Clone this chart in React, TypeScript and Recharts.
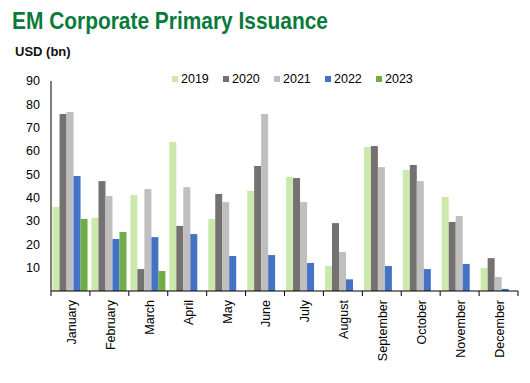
import React from 'react';
import { BarChart, Bar, XAxis, YAxis } from 'recharts';

const months = [
  'January', 'February', 'March', 'April', 'May', 'June',
  'July', 'August', 'September', 'October', 'November', 'December',
];

const y2019 = [36, 31.3, 41.1, 63.9, 30.9, 42.9, 48.9, 10.7, 61.7, 51.9, 40.3, 9.9];
const y2020 = [75.9, 47.1, 9.4, 27.9, 41.6, 53.6, 48.4, 29.1, 62.1, 54, 29.6, 14.1];
const y2021 = [76.7, 40.7, 43.7, 44.5, 38.1, 75.9, 38.1, 16.7, 53.1, 47.1, 32.1, 6];
const y2022 = [49.3, 22.3, 23.1, 24.4, 15, 15.4, 12, 5, 10.7, 9.4, 11.6, 0.9];
const y2023 = [30.9, 25.3, 8.6, null, null, null, null, null, null, null, null, null];

const yTicks = [10, 20, 30, 40, 50, 60, 70, 80, 90];

const series = [
  { key: 'y2019', name: '2019', color: '#cce9ad' },
  { key: 'y2020', name: '2020', color: '#767171' },
  { key: 'y2021', name: '2021', color: '#bfbfbf' },
  { key: 'y2022', name: '2022', color: '#4472c4' },
  { key: 'y2023', name: '2023', color: '#70ad47' },
];

const data = months.map((m, i) => ({
  month: m,
  y2019: y2019[i],
  y2020: y2020[i],
  y2021: y2021[i],
  y2022: y2022[i],
  y2023: y2023[i],
}));

const FONT = '"Liberation Sans", Arial, sans-serif';
const WIDTH = 530;
const HEIGHT = 383;
const MARGIN = { top: 81, right: 12, bottom: 22, left: 11 };
const Y_AXIS_W = 40;
const BAND = (WIDTH - MARGIN.left - MARGIN.right - Y_AXIS_W) / months.length;

// month label + tick mark on the left boundary of each category
function MonthTick(props: any) {
  const { x, y, payload, index } = props;
  const axisY = y - 8;
  return (
    <g>
      <line x1={x - BAND / 2} y1={axisY} x2={x - BAND / 2} y2={axisY + 5} stroke="#000" />
      {index === months.length - 1 && (
        <line x1={x + BAND / 2} y1={axisY} x2={x + BAND / 2} y2={axisY + 5} stroke="#000" />
      )}
      <g transform={`translate(${x + 1},${y + 1})`}>
        <text
          transform="rotate(-90)"
          textAnchor="end"
          dy="0.35em"
          fontSize={12.5}
          fontFamily={FONT}
          fill="#000"
        >
          {payload.value}
        </text>
      </g>
    </g>
  );
}

function LegendRow() {
  return (
    <div style={{ display: 'flex', fontFamily: FONT, fontSize: 12.5, color: '#000' }}>
      {series.map((s) => (
        <div key={s.key} style={{ width: 51, display: 'flex', alignItems: 'center' }}>
          <span style={{ width: 6, height: 6, background: s.color, marginRight: 3 }} />
          <span>{s.name}</span>
        </div>
      ))}
    </div>
  );
}

export default function App() {
  return (
    <div style={{ position: 'absolute', left: 0, top: 0, width: WIDTH, height: HEIGHT, background: '#fff' }}>
      <svg width={WIDTH} height={60} style={{ position: 'absolute', left: 0, top: 0 }}>
        <text
          x={12}
          y={29}
          fontFamily={FONT}
          fontWeight="bold"
          fontSize={24}
          fill="#0a7a3c"
          textLength={316}
          lengthAdjust="spacingAndGlyphs"
        >
          EM Corporate Primary Issuance
        </text>
        <text x={15} y={56} fontFamily={FONT} fontWeight="bold" fontSize={13} fill="#111">
          USD (bn)
        </text>
      </svg>
      <div style={{ position: 'absolute', left: 0, top: 0 }}>
        <BarChart
          width={WIDTH}
          height={HEIGHT}
          data={data}
          margin={MARGIN}
          barGap={0}
          barCategoryGap="4%"
        >
          <XAxis
            dataKey="month"
            interval={0}
            tickLine={false}
            axisLine={{ stroke: '#000' }}
            tick={<MonthTick />}
            height={70}
          />
          <YAxis
            domain={[0, 90]}
            ticks={yTicks}
            width={Y_AXIS_W}
            tickLine={false}
            tickSize={6}
            tickMargin={5}
            axisLine={{ stroke: '#000' }}
            tick={{ fontSize: 12.5, fontFamily: FONT, fill: '#000' }}
          />
          {series.map((s) => (
            <Bar key={s.key} dataKey={s.key} name={s.name} fill={s.color} isAnimationActive={false} />
          ))}
        </BarChart>
      </div>
      <div style={{ position: 'absolute', left: 172, top: 72 }}>
        <LegendRow />
      </div>
    </div>
  );
}
